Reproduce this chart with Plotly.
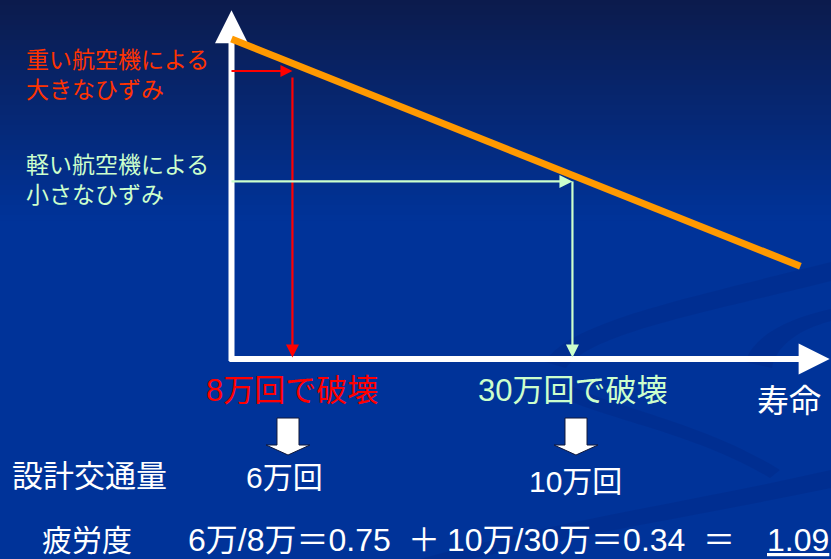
import numpy as np
import plotly.graph_objects as go

# ---------------- data ----------------
load_labels = ["重い航空機による<br>大きなひずみ", "軽い航空機による<br>小さなひずみ"]
load_colors = ["#FF3300", "#CCFFCC"]
guide_colors = ["#FF0000", "#CCFFCC"]
failure_cycles = [8, 30]            # 万回 (cycles to failure)
strain_levels = [0.90, 0.555]       # schematic strain of each load
failure_labels = ["8万回で破壊", "30万回で破壊"]
design_traffic = [6, 10]            # 万回
design_labels = ["6万回", "10万回"]
fatigue_ratios = [0.75, 0.34]
fatigue_total = 1.09

sn_cycles = [6.0, 88.0]             # S-N line end points (万回)
sn_strain = [1.0, 0.29]

axis_origin_cycles = 6.0
axis_end_cycles = 101.0
strain_axis_top = 1.09

W, H = 831, 559
FONT = "Liberation Sans, 'Noto Sans CJK JP', sans-serif"


def px(x):
    return x / W


def py(y):
    return 1 - y / H


fig = go.Figure()

# ---------------- background ----------------
shapes = []
top = np.array([12, 27, 76])
bot = np.array([0, 51, 153])
n = 44
for i in range(n):
    y0 = i * 5
    t = (i + 0.5) / n
    c = top + (bot - top) * t
    shapes.append(dict(type="rect", xref="paper", yref="paper", layer="below",
                       x0=0, x1=1, y0=py(y0 + 5.5), y1=py(y0),
                       fillcolor=f"rgb({c[0]:.0f},{c[1]:.0f},{c[2]:.0f})",
                       line=dict(width=0)))


def pt(a, b):
    return f"{px(a):.4f},{py(b):.4f}"


def poly(points):
    s = "M" + pt(*points[0])
    for p in points[1:]:
        s += " L" + pt(*p)
    return s + " Z"


def band(p0, c1, c2, p1, p2, d1, d2, p3):
    return ("M" + pt(*p0) + " C" + pt(*c1) + " " + pt(*c2) + " " + pt(*p1) +
            " L" + pt(*p2) + " C" + pt(*d1) + " " + pt(*d2) + " " + pt(*p3) + " Z")


swooshes = [
    band((545, 362), (570, 322), (680, 300), (831, 262),
         (831, 281), (690, 316), (592, 334), (566, 368)),
    band((745, 362), (755, 334), (790, 318), (831, 309),
         (831, 321), (800, 329), (776, 345), (772, 368)),
    band((560, 380), (600, 405), (700, 420), (780, 470),
         (770, 478), (690, 430), (595, 418), (552, 392)),
    band((420, 559), (560, 520), (700, 500), (831, 470),
         (831, 488), (700, 515), (580, 535), (470, 559)),
]
for sw in swooshes:
    shapes.append(dict(type="path", xref="paper", yref="paper", layer="below",
                       path=sw, fillcolor="rgba(0,25,105,0.16)",
                       line=dict(width=0)))

# block down arrows under each failure label
for cx in [288, 576]:
    pts = [(cx - 11, 418), (cx + 11, 418), (cx + 11, 445), (cx + 22, 445),
           (cx, 455), (cx - 22, 445), (cx - 11, 445)]
    shapes.append(dict(type="path", xref="paper", yref="paper", layer="above",
                       path=poly(pts), fillcolor="white",
                       line=dict(color="#10183a", width=1)))

# ---------------- axes (white arrows) ----------------
fig.add_trace(go.Scatter(x=[axis_origin_cycles, axis_origin_cycles],
                         y=[-0.006, 0.99], mode="lines",
                         line=dict(color="white", width=6), hoverinfo="skip"))
fig.add_trace(go.Scatter(x=[axis_origin_cycles], y=[strain_axis_top],
                         mode="markers", cliponaxis=False,
                         marker=dict(symbol="arrow-up", size=33, color="white",
                                     line=dict(width=0)), hoverinfo="skip"))
fig.add_trace(go.Scatter(x=[axis_origin_cycles - 0.06, 89.5], y=[0, 0],
                         mode="lines", line=dict(color="white", width=6),
                         hoverinfo="skip"))
fig.add_trace(go.Scatter(x=[axis_end_cycles], y=[0], mode="markers",
                         cliponaxis=False,
                         marker=dict(symbol="arrow-right", size=31, color="white",
                                     line=dict(width=0)), hoverinfo="skip"))

# ---------------- S-N line ----------------
fig.add_trace(go.Scatter(x=sn_cycles, y=sn_strain, mode="lines",
                         line=dict(color="#FF9900", width=7), hoverinfo="skip"))

# ---------------- guide arrows ----------------
vstart = [0.88, strain_levels[1]]
for N, s, col, v0, hs in zip(failure_cycles, strain_levels, guide_colors,
                             vstart, [12, 13]):
    fig.add_trace(go.Scatter(x=[axis_origin_cycles, N * 0.985], y=[s, s],
                             mode="lines", line=dict(color=col, width=2.2),
                             hoverinfo="skip"))
    fig.add_trace(go.Scatter(x=[N], y=[s], mode="markers", cliponaxis=False,
                             marker=dict(symbol="arrow-right", size=hs, color=col,
                                         line=dict(width=0)), hoverinfo="skip"))
    fig.add_trace(go.Scatter(x=[N, N], y=[v0, 0.03], mode="lines",
                             line=dict(color=col, width=2.2), hoverinfo="skip"))
    fig.add_trace(go.Scatter(x=[N], y=[0.005], mode="markers", cliponaxis=False,
                             marker=dict(symbol="arrow-down", size=13, color=col,
                                         line=dict(width=0)), hoverinfo="skip"))

# ---------------- text ----------------
ann = []
for lab, col, yc in zip(load_labels, load_colors, [75, 180]):
    ann.append(dict(text=lab, x=px(24), y=py(yc), xref="paper", yref="paper",
                    xanchor="left", yanchor="middle", align="left",
                    showarrow=False, font=dict(size=23, color=col, family=FONT)))

for N, lab, col in zip(failure_cycles, failure_labels, guide_colors):
    ann.append(dict(text=lab, x=np.log10(N), y=py(390), xref="x", yref="paper",
                    xanchor="center", yanchor="middle", showarrow=False,
                    font=dict(size=31, color=col, family=FONT)))

ann.append(dict(text="寿命", x=px(789), y=py(401), xref="paper", yref="paper",
                xanchor="center", yanchor="middle", showarrow=False,
                font=dict(size=32, color="white", family=FONT)))

ann.append(dict(text="設計交通量", x=px(10), y=py(476), xref="paper", yref="paper",
                xanchor="left", yanchor="middle", showarrow=False,
                font=dict(size=31, color="white", family=FONT)))
for xc, yc, lab in zip([284, 575], [477, 481], design_labels):
    ann.append(dict(text=lab, x=px(xc), y=py(yc), xref="paper", yref="paper",
                    xanchor="center", yanchor="middle", showarrow=False,
                    font=dict(size=30, color="white", family=FONT)))

yb = 540
bottom = [
    ("疲労度", 40, "left", 30),
    (f"{design_traffic[0]}万/{failure_cycles[0]}万＝{fatigue_ratios[0]:.2f}", 186, "left", 32),
    ("＋", 424, "center", 32),
    (f"{design_traffic[1]}万/{failure_cycles[1]}万＝{fatigue_ratios[1]:.2f}", 445, "left", 32),
    ("＝", 719, "center", 32),
    (f"<u>{fatigue_total:.2f}</u>", 831, "right", 32),
]
for txt, xx, anc, fs in bottom:
    ann.append(dict(text=txt, x=px(xx), y=py(yb), xref="paper", yref="paper",
                    xanchor=anc, yanchor="middle", showarrow=False,
                    font=dict(size=fs, color="white", family=FONT)))

lo, hi = np.log10(6.0) - (231.5 / 487.78), np.log10(6.0) + (831 - 231.5) / 487.78
fig.update_layout(
    width=W, height=H,
    margin=dict(l=0, r=0, t=0, b=0, pad=0),
    paper_bgcolor="#003399",
    plot_bgcolor="rgba(0,0,0,0)",
    showlegend=False,
    shapes=shapes,
    annotations=ann,
    xaxis=dict(type="log", range=[lo, hi], visible=False, fixedrange=True),
    yaxis=dict(range=[-0.625, 1.12188], visible=False, fixedrange=True),
    hovermode=False,
)

fig.write_html("out.html", config={"displayModeBar": False, "staticPlot": True})
